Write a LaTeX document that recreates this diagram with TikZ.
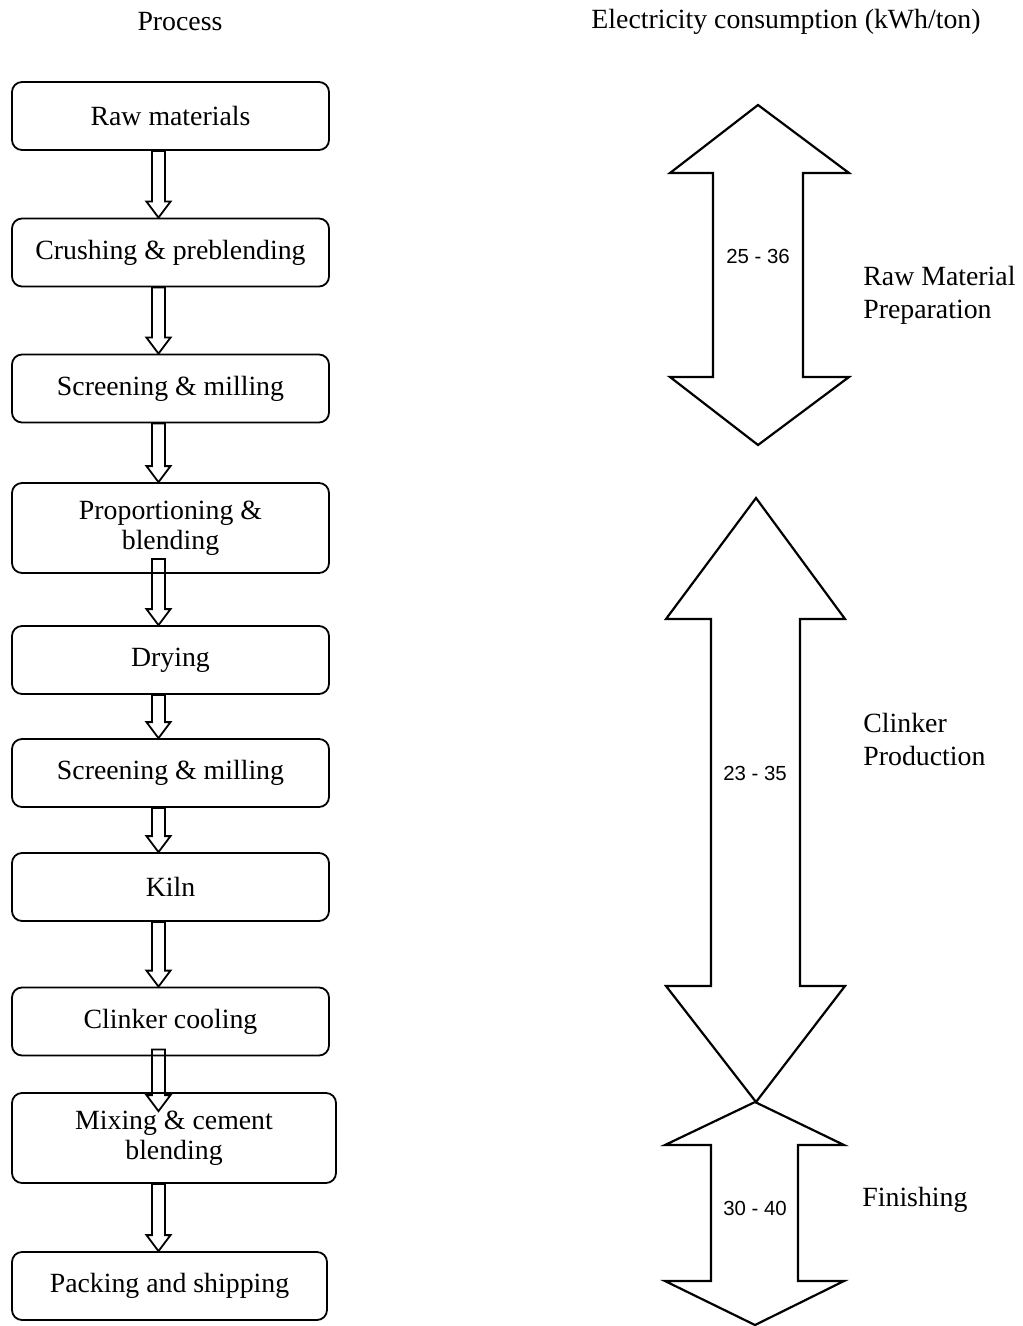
\documentclass[tikz,border=0pt]{standalone}
\usepackage{fontspec}
\setmainfont{Liberation Serif}
\newfontfamily\numfont{Liberation Sans}
\usetikzlibrary{calc}

\begin{document}
\begin{tikzpicture}[
  x=0.5pt, y=-0.5pt,
  stage/.style={draw,line width=0.9pt,rounded corners=5pt,inner sep=0pt,minimum width=158.5pt,minimum height=34pt,align=center,font=\fontsize{13.9}{15}\selectfont},
  tall/.style={minimum height=45pt},
  label/.style={inner sep=0pt,align=left,anchor=west,font=\fontsize{13.9}{16.5}\selectfont},
  head/.style={inner sep=0pt,font=\fontsize{13.9}{15}\selectfont},
  kwh/.style={inner sep=0pt,font=\numfont\fontsize{10.2}{12}\selectfont},
  band/.style={line width=1.1pt,line join=miter},
  hollow/.style={line width=0.9pt,to path={let \p1=(\tikztostart), \p2=(\tikztotarget) in
    (\x1-3.25pt,\y1) -- (\x1-3.25pt,\y2+8pt) -- (\x1-6pt,\y2+8pt) -- (\x1,\y2)
    -- (\x1+6pt,\y2+8pt) -- (\x1+3.25pt,\y2+8pt) -- (\x1+3.25pt,\y1) -- cycle}}
]
  \useasboundingbox (0,0) rectangle (1022,1326);

  % headings
  \node[head] (hproc) at (180,22) {Process};
  \node[head] (helec) at (786,22) {Electricity consumption (kWh/ton)};

  % process chain
  \node[stage] (raw) at (170.5,116) {Raw materials};
  \node[stage] (crush) at (170.5,252.5) {Crushing \& preblending};
  \node[stage] (screen) at (170.5,388.5) {Screening \& milling};
  \node[stage,tall] (prop) at (170.5,528) {Proportioning \&\\blending};
  \node[stage] (dry) at (170.5,660) {Drying};
  \node[stage] (screenb) at (170.5,773) {Screening \& milling};
  \node[stage] (kiln) at (170.5,887) {Kiln};
  \node[stage] (cool) at (170.5,1021.5) {Clinker cooling};
  \node[stage,tall,minimum width=162pt] (mix) at (174,1138) {Mixing \& cement\\blending};
  \node[stage,minimum width=157.5pt] (pack) at (169.5,1286) {Packing and shipping};

  \coordinate (ax) at (158.5,0);
  \draw[hollow] (raw.south -| ax) to (crush.north -| ax);
  \draw[hollow] (crush.south -| ax) to (screen.north -| ax);
  \draw[hollow] (screen.south -| ax) to (prop.north -| ax);
  \draw[hollow] ($(prop.south -| ax)+(0,-15)$) to (dry.north -| ax);
  \draw[hollow] (dry.south -| ax) to (screenb.north -| ax);
  \draw[hollow] (screenb.south -| ax) to (kiln.north -| ax);
  \draw[hollow] (kiln.south -| ax) to (cool.north -| ax);
  \draw[hollow] ($(cool.south -| ax)+(0,-7)$) to ($(mix.north -| ax)+(0,19)$);
  \draw[hollow] (mix.south -| ax) to (pack.north -| ax);

  % consumption bands
  \draw[band] (758,105) -- (849,173) -- (803,173) -- (803,377) -- (849,377) -- (758,445)
    -- (670,377) -- (713,377) -- (713,173) -- (670,173) -- cycle;
  \draw[band] (756,498) -- (845,619) -- (800,619) -- (800,986) -- (845,986) -- (756,1102)
    -- (666,986) -- (711,986) -- (711,619) -- (666,619) -- cycle;
  \draw[band] (755,1102) -- (844,1145) -- (798,1145) -- (798,1281) -- (844,1281) -- (755,1325)
    -- (665,1281) -- (711,1281) -- (711,1145) -- (665,1145) -- cycle;

  \node[kwh] (k1) at (758,256) {25 - 36};
  \node[kwh] (k2) at (755,773) {23 - 35};
  \node[kwh] (k3) at (755,1208) {30 - 40};

  \node[label] (l1) at (863,295) {Raw Material\\Preparation};
  \node[label] (l2) at (863,739) {Clinker\\Production};
  \node[label] (l3) at (862,1200) {Finishing};
\end{tikzpicture}
\end{document}
